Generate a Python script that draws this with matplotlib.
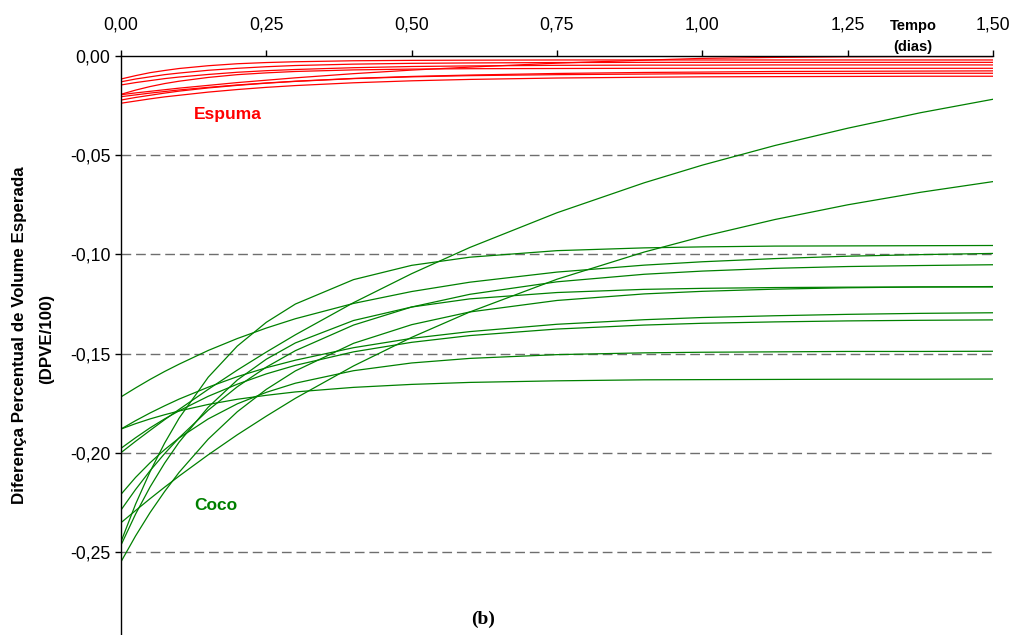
import matplotlib
matplotlib.use("Agg")
import matplotlib.pyplot as plt

plt.rcParams['font.family'] = ['Liberation Sans', 'DejaVu Sans']

# time (days)
tempo = [0, 0.025, 0.05, 0.075, 0.1, 0.15, 0.2, 0.25, 0.3, 0.4, 0.5, 0.6, 0.75, 0.9, 1.0, 1.125, 1.25, 1.375, 1.5]

# Coco (green) series
coco_1 = [-.2448, -.2259, -.2095, -.1951, -.1825, -.1619, -.1462, -.1342, -.1250, -.1127, -.1055, -.1014, -.0981, -.0967, -.0962, -.0958, -.0957, -.0956, -.0955]
coco_2 = [-.2352, -.2291, -.2231, -.2173, -.2117, -.2010, -.1909, -.1815, -.1725, -.1562, -.1418, -.1290, -.1125, -.0988, -.0910, -.0824, -.0750, -.0687, -.0633]
coco_3 = [-.1999, -.1942, -.1887, -.1833, -.1781, -.1680, -.1583, -.1492, -.1405, -.1243, -.1097, -.0965, -.0790, -.0639, -.0550, -.0451, -.0364, -.0286, -.0218]
coco_4 = [-.1718, -.1673, -.1630, -.1590, -.1553, -.1484, -.1424, -.1371, -.1324, -.1247, -.1187, -.1140, -.1089, -.1054, -.1037, -.1021, -.1009, -.1001, -.0995]
coco_5 = [-.2288, -.2185, -.2090, -.2004, -.1924, -.1785, -.1667, -.1568, -.1485, -.1356, -.1265, -.1201, -.1138, -.1100, -.1084, -.1070, -.1061, -.1056, -.1052]
coco_6 = [-.2465, -.2309, -.2172, -.2052, -.1946, -.1770, -.1633, -.1528, -.1446, -.1333, -.1265, -.1224, -.1192, -.1176, -.1171, -.1167, -.1165, -.1164, -.1164]
coco_7 = [-.2549, -.2419, -.2301, -.2195, -.2098, -.1931, -.1793, -.1680, -.1587, -.1448, -.1354, -.1290, -.1232, -.1199, -.1186, -.1175, -.1168, -.1164, -.1162]
coco_8 = [-.1880, -.1838, -.1799, -.1763, -.1729, -.1669, -.1616, -.1571, -.1533, -.1470, -.1423, -.1389, -.1352, -.1329, -.1318, -.1309, -.1302, -.1297, -.1294]
coco_9 = [-.1977, -.1924, -.1874, -.1829, -.1788, -.1715, -.1654, -.1602, -.1559, -.1491, -.1443, -.1409, -.1376, -.1356, -.1347, -.1340, -.1335, -.1332, -.1330]
coco_10 = [-.2209, -.2124, -.2050, -.1984, -.1925, -.1829, -.1753, -.1695, -.1649, -.1586, -.1547, -.1524, -.1505, -.1496, -.1493, -.1491, -.1489, -.1489, -.1488]
coco_11 = [-.1880, -.1853, -.1829, -.1808, -.1789, -.1756, -.1730, -.1710, -.1693, -.1670, -.1655, -.1645, -.1637, -.1632, -.1631, -.1630, -.1629, -.1629, -.1628]

# Espuma (red) series
espuma_1 = [-.0116, -.0099, -.0084, -.0073, -.0063, -.0049, -.0039, -.0033, -.0029, -.0024, -.0022, -.0021, -.0020, -.0020, -.0020, -.0020, -.0020, -.0020, -.0020]
espuma_2 = [-.0130, -.0116, -.0105, -.0094, -.0086, -.0072, -.0062, -.0054, -.0048, -.0041, -.0037, -.0035, -.0033, -.0032, -.0032, -.0032, -.0032, -.0032, -.0032]
espuma_3 = [-.0146, -.0134, -.0124, -.0114, -.0106, -.0093, -.0082, -.0074, -.0068, -.0059, -.0053, -.0050, -.0047, -.0046, -.0046, -.0045, -.0045, -.0045, -.0045]
espuma_4 = [-.0193, -.0172, -.0154, -.0139, -.0127, -.0108, -.0094, -.0085, -.0078, -.0070, -.0066, -.0064, -.0063, -.0062, -.0062, -.0062, -.0062, -.0062, -.0062]
espuma_5 = [-.0205, -.0196, -.0187, -.0179, -.0171, -.0158, -.0146, -.0136, -.0127, -.0113, -.0103, -.0096, -.0088, -.0083, -.0081, -.0078, -.0077, -.0076, -.0075]
espuma_6 = [-.0222, -.0209, -.0198, -.0187, -.0177, -.0161, -.0148, -.0137, -.0128, -.0114, -.0105, -.0099, -.0094, -.0091, -.0089, -.0088, -.0088, -.0087, -.0087]
espuma_7 = [-.0238, -.0227, -.0216, -.0206, -.0198, -.0182, -.0169, -.0158, -.0149, -.0135, -.0125, -.0118, -.0111, -.0107, -.0105, -.0104, -.0103, -.0102, -.0102]
espuma_8 = [-.0195, -.0186, -.0178, -.0170, -.0162, -.0148, -.0134, -.0122, -.0110, -.0089, -.0071, -.0056, -.0036, -.0021, -.0012, -.0007, -.0004, -.0003, -.0003]

coco = [coco_1, coco_2, coco_3, coco_4, coco_5, coco_6, coco_7, coco_8, coco_9, coco_10, coco_11]
espuma = [espuma_1, espuma_2, espuma_3, espuma_4, espuma_5, espuma_6, espuma_7, espuma_8]

x_ticks = [0, 0.25, 0.5, 0.75, 1.0, 1.25, 1.5]
x_labels = ["0,00", "0,25", "0,50", "0,75", "1,00", "1,25", "1,50"]
y_ticks = [0, -0.05, -0.10, -0.15, -0.20, -0.25]
y_labels = ["0,00", "-0,05", "-0,10", "-0,15", "-0,20", "-0,25"]

W, H = 1015, 635
fig = plt.figure(figsize=(W / 100, H / 100), dpi=100)
ax = fig.add_axes([121 / W, 0, (993 - 121) / W, (H - 56) / H])
ax.set_xlim(0, 1.5)
ax.set_ylim(-0.2918, 0)

for yv in y_ticks[1:]:
    ax.axhline(yv, color='#6e6e6e', lw=1.0, dashes=(7, 3.5), zorder=1)

for s in coco:
    ax.plot(tempo, s, color='#008000', lw=0.9, zorder=3, solid_joinstyle='round')
for s in espuma:
    ax.plot(tempo, s, color='#ff0000', lw=0.9, zorder=3, solid_joinstyle='round')

for sp in ['right', 'bottom']:
    ax.spines[sp].set_visible(False)
for sp in ['left', 'top']:
    ax.spines[sp].set_color('black')
    ax.spines[sp].set_linewidth(1.0)
    ax.spines[sp].set_zorder(4)

ax.xaxis.tick_top()
ax.set_xticks(x_ticks)
ax.set_xticklabels(x_labels)
ax.set_yticks(y_ticks)
ax.set_yticklabels(y_labels)
ax.tick_params(axis='x', direction='out', length=4.5, width=1, pad=12, labelsize=12.7)
ax.tick_params(axis='y', direction='out', length=4.5, width=1, pad=3, labelsize=12.7)

fig.text(913 / W, 1 - 26 / H, "Tempo", ha='center', va='center', fontsize=10.5, fontweight='bold')
fig.text(913 / W, 1 - 47 / H, "(dias)", ha='center', va='center', fontsize=10.5, fontweight='bold')

fig.text(20 / W, 1 - 335 / H, "Diferença Percentual de Volume Esperada", rotation=90,
         ha='center', va='center', fontsize=12.2, fontweight='bold')
fig.text(47 / W, 1 - 339 / H, "(DPVE/100)", rotation=90,
         ha='center', va='center', fontsize=12.2, fontweight='bold')

fig.text(228 / W, 1 - 114 / H, "Espuma", color='#ff0000', ha='center', va='center',
         fontsize=12.5, fontweight='bold')
fig.text(216 / W, 1 - 506 / H, "Coco", color='#008000', ha='center', va='center',
         fontsize=12.5, fontweight='bold')
fig.text(483 / W, 1 - 619 / H, "(b)", ha='center', va='center', fontsize=14,
         fontweight='bold', family=['Liberation Serif', 'DejaVu Serif'])

fig.savefig("out.png", dpi=100)
